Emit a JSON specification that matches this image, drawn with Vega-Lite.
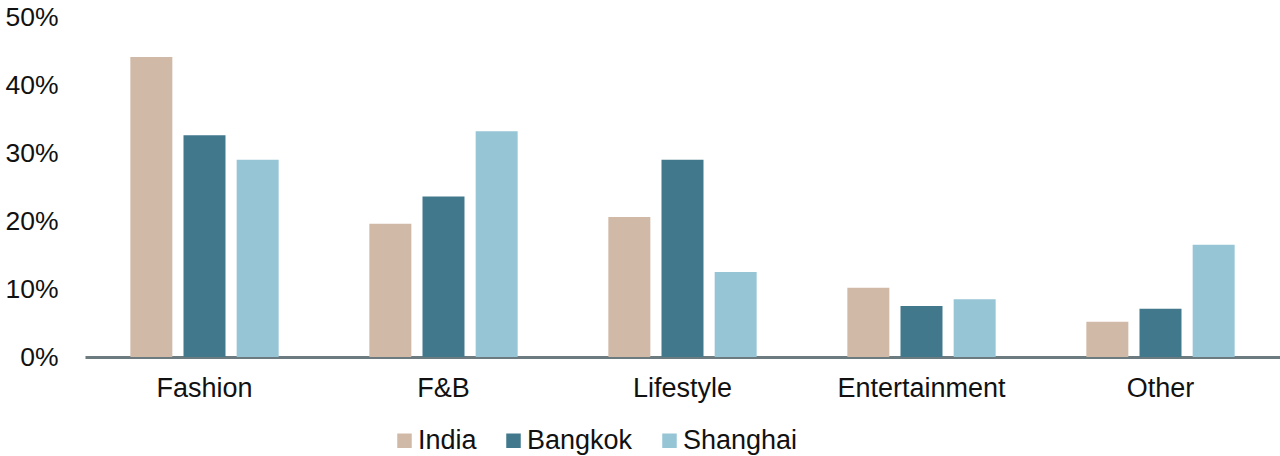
{
  "$schema": "https://vega.github.io/schema/vega-lite/v6.json",
  "width": 1195,
  "height": 340,
  "autosize": "none",
  "padding": {"left": 85, "top": 17, "right": 0, "bottom": 99},
  "background": "white",
  "data": {
    "values": [
      {"category": "Fashion", "city": "India", "share": 0.441},
      {"category": "Fashion", "city": "Bangkok", "share": 0.326},
      {"category": "Fashion", "city": "Shanghai", "share": 0.29},
      {"category": "F&B", "city": "India", "share": 0.196},
      {"category": "F&B", "city": "Bangkok", "share": 0.236},
      {"category": "F&B", "city": "Shanghai", "share": 0.332},
      {"category": "Lifestyle", "city": "India", "share": 0.206},
      {"category": "Lifestyle", "city": "Bangkok", "share": 0.29},
      {"category": "Lifestyle", "city": "Shanghai", "share": 0.125},
      {"category": "Entertainment", "city": "India", "share": 0.102},
      {"category": "Entertainment", "city": "Bangkok", "share": 0.075},
      {"category": "Entertainment", "city": "Shanghai", "share": 0.085},
      {"category": "Other", "city": "India", "share": 0.052},
      {"category": "Other", "city": "Bangkok", "share": 0.071},
      {"category": "Other", "city": "Shanghai", "share": 0.165}
    ]
  },
  "mark": {"type": "bar"},
  "encoding": {
    "x": {
      "field": "category",
      "type": "nominal",
      "sort": ["Fashion", "F&B", "Lifestyle", "Entertainment", "Other"],
      "scale": {"paddingInner": 0.335, "paddingOuter": 0.1675},
      "title": null,
      "axis": {
        "labelAngle": 0,
        "ticks": false,
        "domainColor": "#6b7b80",
        "domainWidth": 3,
        "labelPadding": 18,
        "labelFontSize": 27,
        "labelColor": "#111111"
      }
    },
    "xOffset": {
      "field": "city",
      "type": "nominal",
      "sort": ["India", "Bangkok", "Shanghai"],
      "scale": {"paddingInner": 0.21, "paddingOuter": 0.1}
    },
    "y": {
      "field": "share",
      "type": "quantitative",
      "scale": {"domain": [0, 0.5]},
      "title": null,
      "axis": {
        "values": [0, 0.1, 0.2, 0.3, 0.4, 0.5],
        "format": ".0%",
        "grid": false,
        "domain": false,
        "ticks": false,
        "labelPadding": 27,
        "labelFontSize": 26.5,
        "labelColor": "#111111"
      }
    },
    "color": {
      "field": "city",
      "type": "nominal",
      "sort": ["India", "Bangkok", "Shanghai"],
      "scale": {
        "domain": ["India", "Bangkok", "Shanghai"],
        "range": ["#d1b9a7", "#41788c", "#96c5d6"]
      },
      "title": null,
      "legend": {
        "orient": "none",
        "direction": "horizontal",
        "legendX": 306,
        "legendY": 410,
        "symbolType": "square",
        "symbolSize": 210,
        "symbolStrokeWidth": 0,
        "labelFontSize": 27,
        "labelColor": "#111111",
        "labelOffset": 0,
        "columnPadding": 23
      }
    }
  },
  "config": {
    "view": {"stroke": null},
    "font": "Liberation Sans"
  }
}
